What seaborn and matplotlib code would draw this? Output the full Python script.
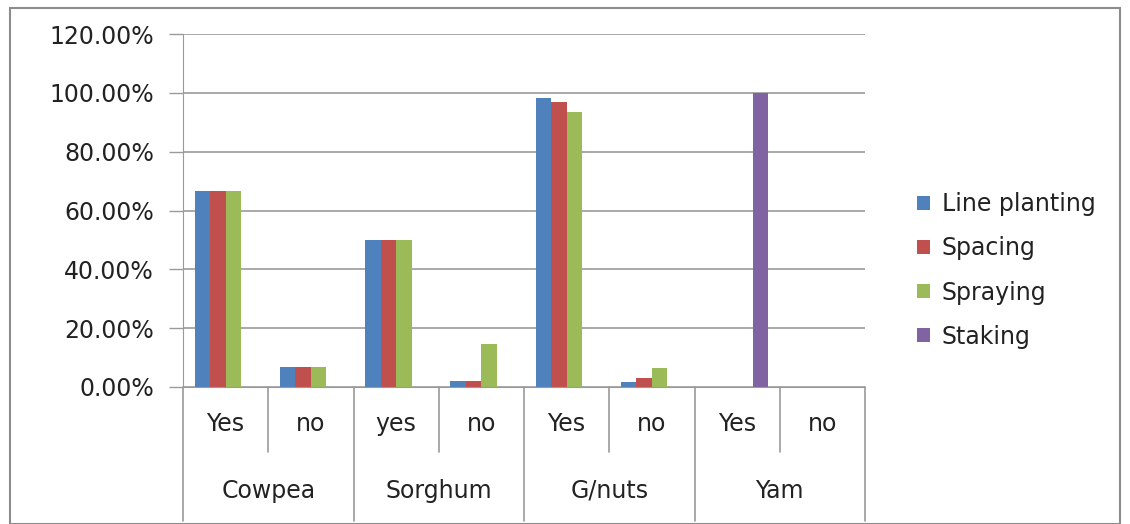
import pandas as pd
import numpy as np
import matplotlib.pyplot as plt
import seaborn as sns
from matplotlib.patches import Rectangle

# Chart data
crops = ["Cowpea", "Sorghum", "G/nuts", "Yam"]
answers = ["Yes", "no", "yes", "no", "Yes", "no", "Yes", "no"]
series = ["Line planting", "Spacing", "Spraying", "Staking"]
line_planting = [66.67, 6.67, 50.0, 2.0, 98.4, 1.6, 0, 0]
spacing = [66.67, 6.67, 50.0, 2.0, 96.8, 2.9, 0, 0]
spraying = [66.67, 6.67, 50.0, 14.5, 93.6, 6.6, 0, 0]
staking = [0, 0, 0, 0, 0, 0, 100.0, 0]
colors = ["#4F81BD", "#C0504D", "#9BBB59", "#8064A2"]

slots = [f"{i}" for i in range(len(answers))]
rows = []
for name, vals in zip(series, [line_planting, spacing, spraying, staking]):
    for s, v in zip(slots, vals):
        rows.append({"slot": s, "series": name, "value": v})
df = pd.DataFrame(rows)

sns.set_style("white")
plt.rcParams['font.family'] = ['DejaVu Sans']
FS = 17
TXT = "#222222"

fig = plt.figure(figsize=(11.3, 5.24), dpi=100)
ax = fig.add_axes([183 / 1130, 1 - 387 / 524, (865 - 183) / 1130, (387 - 34) / 524])

sns.barplot(data=df, x="slot", y="value", hue="series", order=slots,
            hue_order=series, palette=colors, width=0.727, linewidth=0,
            saturation=1, ax=ax, legend=True)

ax.set_xlim(-0.5, len(slots) - 0.5)
ax.set_ylim(0, 120)
ax.set_yticks(np.arange(0, 121, 20))
ax.set_yticklabels([f"{v:.2f}%" for v in np.arange(0, 121, 20)], fontsize=FS, color=TXT)
ax.yaxis.grid(True, color="#9a9a9a", linewidth=1.2)
ax.set_axisbelow(True)
ax.tick_params(axis="y", length=10, color="#9a9a9a", width=1, pad=11, left=True)
ax.set_xticks([])
ax.set_xlabel("")
ax.set_ylabel("")
for side in ["top", "right"]:
    ax.spines[side].set_visible(False)
ax.spines["left"].set_color("#9a9a9a")
ax.spines["bottom"].set_color("#9a9a9a")

# two-level category axis below the plot
h = 353.0
short_y = (387 - 452) / h
long_y = (387 - 521) / h
n = len(slots)
for i in range(n + 1):
    x = i / n
    y_end = long_y if i % 2 == 0 else short_y
    ax.plot([x, x], [0, y_end], transform=ax.transAxes, color="#9a9a9a",
            linewidth=1.2, clip_on=False)
for i, lab in enumerate(answers):
    ax.text((i + 0.5) / n, (387 - 424) / h, lab, transform=ax.transAxes,
            ha="center", va="center", fontsize=FS, color=TXT)
for j, crop in enumerate(crops):
    ax.text((2 * j + 1) / n, (387 - 491) / h, crop, transform=ax.transAxes,
            ha="center", va="center", fontsize=FS, color=TXT)

leg = ax.legend(loc="center left", bbox_to_anchor=(1.045, 0.33), frameon=False,
                fontsize=FS, handlelength=0.55, handleheight=0.55,
                labelspacing=0.85, handletextpad=0.5)
for t in leg.get_texts():
    t.set_color(TXT)

# outer chart border
fig.patches.append(Rectangle((10 / 1130, 0), 1110 / 1130, 1 - 8 / 524,
                             transform=fig.transFigure, fill=False,
                             edgecolor="#8c8c8c", linewidth=1.5))

fig.savefig("out.png", dpi=100)
